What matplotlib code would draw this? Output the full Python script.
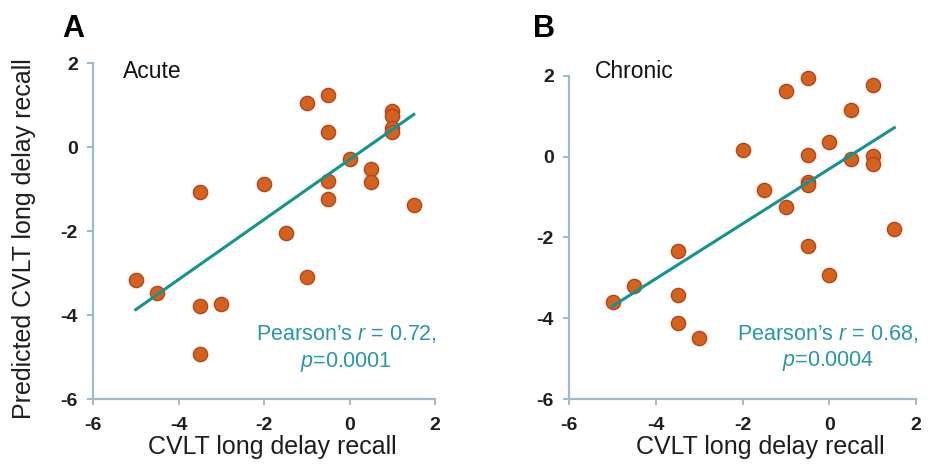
import numpy as np
import matplotlib
matplotlib.use("Agg")
import matplotlib.pyplot as plt

plt.rcParams['font.family'] = ['Liberation Sans', 'DejaVu Sans']
plt.rcParams['axes.unicode_minus'] = False
plt.rcParams['mathtext.fontset'] = 'custom'
plt.rcParams['mathtext.rm'] = 'Liberation Sans'
plt.rcParams['mathtext.it'] = 'Liberation Sans:italic'

# valores
acute_x = [-0.5, -1, 1, 1, 1, 1, -0.5, 0, 0.5, 0.5, -0.5, -0.5, 1.5, -2, -3.5,
           -1.5, -1, -5, -4.5, -3.5, -3, -3.5]
acute_y = [1.25, 1.05, 0.87, 0.75, 0.45, 0.36, 0.35, -0.28, -0.51, -0.84, -0.80,
           -1.24, -1.39, -0.87, -1.07, -2.05, -3.10, -3.17, -3.47, -3.79, -3.73, -4.92]
acute_fit_x = [-5, 1.5]
acute_fit_y = [-3.87, 0.78]

chronic_x = [-0.5, -1, 1, 0.5, -2, 0, -0.5, 0.5, 1, 1, -0.5, -0.5, -1.5, -1, 1.5,
             -0.5, 0, -3.5, -4.5, -5, -3.5, -3.5, -3]
chronic_y = [1.94, 1.63, 1.78, 1.16, 0.17, 0.36, 0.04, -0.06, 0.02, -0.18, -0.62,
             -0.70, -0.83, -1.24, -1.78, -2.21, -2.93, -2.33, -3.20, -3.60, -3.43,
             -4.13, -4.49]
chronic_fit_x = [-5, 1.5]
chronic_fit_y = [-3.70, 0.72]

ticks = [-6, -4, -2, 0, 2]

DOT = "#D4621F"
DOT_EDGE = "#B5461B"
LINE = "#16928F"
TEAL_TXT = "#2B97A6"
SPINE = "#9EBBCB"


def panel(ax, xs, ys, fx, fy, group, stats, group_pos, stats_pos):
    ax.scatter(xs, ys, s=105, color=DOT, edgecolor=DOT_EDGE, linewidth=1.0,
               zorder=3, clip_on=False)
    ax.plot(fx, fy, color=LINE, linewidth=2.2, zorder=4)
    ax.set_xlim(-6, 2)
    ax.set_ylim(-6, 2)
    ax.set_xticks(ticks)
    ax.set_yticks(ticks)
    for side in ["top", "right"]:
        ax.spines[side].set_visible(False)
    for side in ["left", "bottom"]:
        ax.spines[side].set_color(SPINE)
        ax.spines[side].set_linewidth(1.6)
    ax.tick_params(axis="both", color=SPINE, width=1.4, length=4,
                   labelsize=14, labelcolor="#1E1E1E")
    ax.tick_params(axis="x", pad=9)
    ax.tick_params(axis="y", pad=7)
    for lab in ax.get_xticklabels() + ax.get_yticklabels():
        lab.set_fontweight("bold")
    ax.text(group_pos[0], group_pos[1], group, transform=ax.transAxes,
            fontsize=16.5, color="#111111", va="baseline", ha="left")
    ax.text(stats_pos[0], stats_pos[1], stats[0], transform=ax.transAxes,
            fontsize=15.5, color=TEAL_TXT, va="baseline", ha="center")
    ax.text(stats_pos[0], stats_pos[2], stats[1], transform=ax.transAxes,
            fontsize=15.5, color=TEAL_TXT, va="baseline", ha="center")


fig = plt.figure(figsize=(9.3, 4.75), dpi=100)
ax_a = fig.add_axes([0.100, 0.160, 0.368, 0.707])
ax_b = fig.add_axes([0.612, 0.160, 0.373, 0.680])

panel(ax_a, acute_x, acute_y, acute_fit_x, acute_fit_y, "Acute",
      ["Pearson\u2019s $r$ = 0.72,", "$p$=0.0001"],
      (0.088, 0.955), (0.740, 0.176, 0.096))
panel(ax_b, chronic_x, chronic_y, chronic_fit_x, chronic_fit_y, "Chronic",
      ["Pearson\u2019s $r$ = 0.68,", "$p$=0.0004"],
      (0.075, 0.994), (0.746, 0.183, 0.103))

fig.text(0.067, 0.922, "A", fontsize=22, fontweight="bold", va="baseline", ha="left")
fig.text(0.573, 0.922, "B", fontsize=22, fontweight="bold", va="baseline", ha="left")

fig.text(0.293, 0.044, "CVLT long delay recall", fontsize=18, color="#1E1E1E",
         ha="center", va="baseline")
fig.text(0.818, 0.044, "CVLT long delay recall", fontsize=18, color="#1E1E1E",
         ha="center", va="baseline")
fig.text(0.026, 0.497, "Predicted CVLT long delay recall", fontsize=18, color="#1E1E1E",
         rotation=90, ha="center", va="center")

fig.savefig("out.png", dpi=100, facecolor="white")
